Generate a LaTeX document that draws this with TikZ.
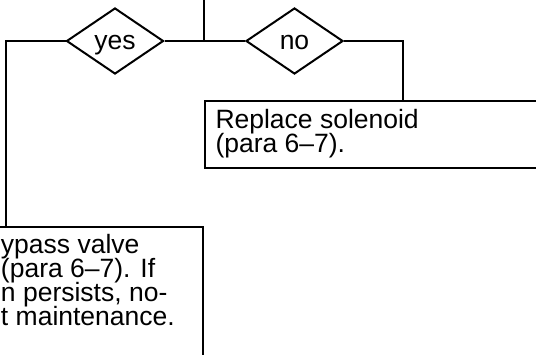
\documentclass[tikz,border=0pt]{standalone}
\usepackage{fontspec}
\setmainfont{Liberation Sans}
\usetikzlibrary{shapes.geometric}
\newcommand\boxfont{\fontsize{26.5}{24}\selectfont\lineskiplimit=-100pt\lineskip=0pt}
\begin{document}
\begin{tikzpicture}[x=1pt,y=-1pt,line width=2pt,
  decision/.style={draw,diamond,inner sep=0pt,minimum width=97pt,minimum height=66pt,text height=16pt,text depth=0pt,font=\boxfont},
  actbox/.style={draw,rectangle,inner sep=0pt},
  boxtext/.style={inner sep=0pt,align=left,font=\boxfont,anchor=north west}]
\useasboundingbox (0,0) rectangle (536,354);
\clip (0,0) rectangle (536,354);
\coordinate (top) at (204,-5);
\coordinate (j) at (204,41);
\node[decision] (yes) at (115,41) {yes};
\node[decision] (no) at (294.5,41) {no};
\node[actbox,anchor=north west,minimum width=396pt,minimum height=67pt] (rep) at (204,100) {};
\node[boxtext] (reptext) at (214.5,108.5) {Replace solenoid\\(para 6–7).};
\node[actbox,anchor=north east,minimum width=394pt,minimum height=200pt] (fix) at (204,226) {};
\node[boxtext] (fixtext) at (0,233.5) {ypass valve\\(para 6–7). If\\n persists, no-\\t maintenance.};
\draw (top) -- (j);
\draw (yes.east) -- (j) -- (no.west);
\draw (no.east) -| (rep.north);
\draw (yes.west) -| (fix.north);
\end{tikzpicture}
\end{document}
